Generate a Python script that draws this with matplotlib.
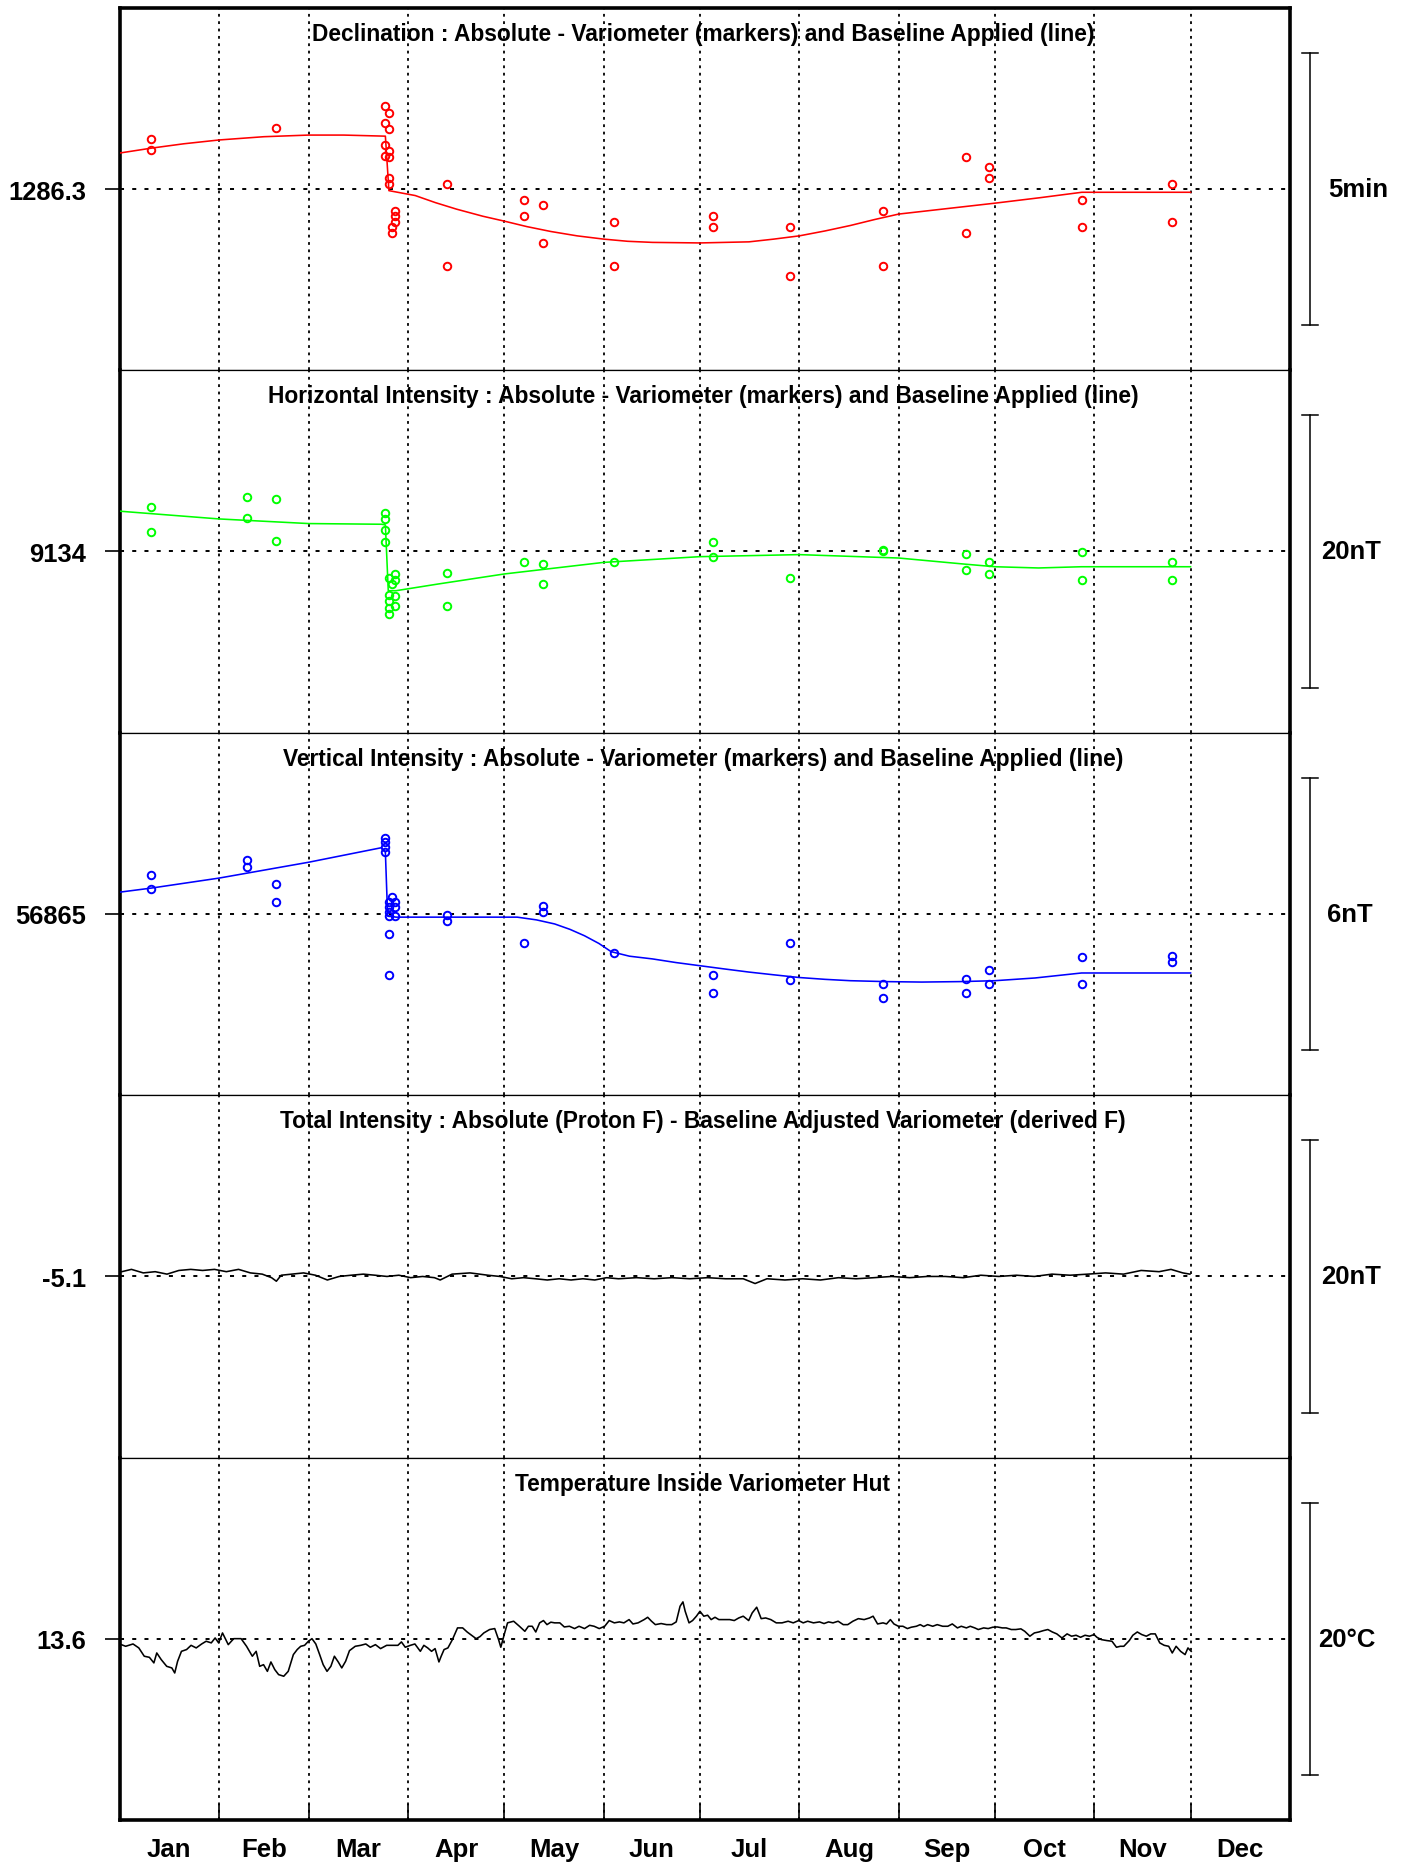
import numpy as np
import matplotlib
matplotlib.use('Agg')
import matplotlib.pyplot as plt
from matplotlib.transforms import blended_transform_factory

plt.rcParams['font.family'] = ['Liberation Sans', 'DejaVu Sans']
plt.rcParams['font.weight'] = 'bold'
plt.rcParams['lines.scale_dashes'] = False

# month boundaries (day of year) and labels
month_starts = [31, 59, 90, 120, 151, 181, 212, 243, 273, 304, 334]
month_mids = [15.5, 45, 74.5, 105, 135.5, 166, 196.5, 227.5, 258, 288.5, 319, 349.5]
month_names = ['Jan', 'Feb', 'Mar', 'Apr', 'May', 'Jun', 'Jul', 'Aug', 'Sep', 'Oct', 'Nov', 'Dec']

# Declination (minutes)
dec_obs_day = [9.9, 9.9, 48.9, 82.9, 84.0, 82.9, 84.0, 82.9, 84.0, 82.7, 84.0, 84.0, 84.0, 86.0, 86.0, 86.0,
               85.0, 85.0, 102.0, 102.0, 126.0, 126.0, 132.0, 132.0, 154.1, 154.1, 185.0, 185.0, 209.1, 209.1,
               238.2, 238.2, 264.1, 264.1, 271.1, 271.1, 300.1, 300.1, 328.2, 328.2]
dec_obs_val = [1287.21, 1287.01, 1287.42, 1287.82, 1287.70, 1287.52, 1287.40, 1287.11, 1287.00, 1286.91,
               1286.89, 1286.50, 1286.39, 1285.90, 1285.80, 1285.69, 1285.60, 1285.50, 1286.39, 1284.89,
               1286.09, 1285.80, 1286.00, 1285.30, 1285.70, 1284.89, 1285.80, 1285.60, 1285.60, 1284.70,
               1285.90, 1284.89, 1286.89, 1285.50, 1286.70, 1286.50, 1286.10, 1285.60, 1286.39, 1285.70]
dec_base_day = [0, 9.9, 20, 31, 45, 59, 69.9, 82.9, 83.3, 84.0, 92.2, 98.5, 105.1, 113.3, 120, 127, 134.5,
                142.7, 151, 158.5, 166.2, 181, 196.3, 204, 212, 220, 227.9, 235.5, 243, 258, 273, 287,
                300.1, 334]
dec_base_val = [1286.96, 1287.05, 1287.13, 1287.20, 1287.26, 1287.29, 1287.29, 1287.27, 1286.91, 1286.27,
                1286.18, 1286.05, 1285.93, 1285.80, 1285.71, 1285.61, 1285.52, 1285.44, 1285.38, 1285.34,
                1285.32, 1285.31, 1285.33, 1285.38, 1285.44, 1285.53, 1285.63, 1285.74, 1285.84, 1285.94,
                1286.04, 1286.14, 1286.24, 1286.24]

# Horizontal intensity (nT)
h_obs_day = [9.9, 9.9, 39.8, 39.8, 48.9, 48.9, 82.9, 82.9, 82.9, 82.9, 84, 86, 86, 85, 84, 86, 84, 86, 84, 84,
             102, 102, 126, 132, 132, 154.1, 185, 185, 209.1, 238.2, 238.2, 264.1, 264.1, 271.1, 271.1,
             300.1, 300.1, 328.2, 328.2]
h_obs_val = [9137.27, 9135.46, 9137.98, 9136.49, 9137.88, 9134.79, 9136.81, 9136.39, 9135.58, 9134.68,
             9132.03, 9132.35, 9131.93, 9131.61, 9130.80, 9130.75, 9130.38, 9130.01, 9129.82, 9129.40,
             9132.39, 9130.01, 9133.20, 9133.08, 9131.61, 9133.20, 9134.72, 9133.62, 9132.03, 9134.13,
             9134.04, 9133.82, 9132.64, 9133.23, 9132.32, 9133.94, 9131.93, 9133.20, 9131.93]
h_base_day = [0, 31, 59, 81.7, 82.9, 83.8, 86.2, 99.3, 120, 151, 181, 212, 243, 263.2, 273, 286.6, 300, 334]
h_base_val = [9136.96, 9136.39, 9136.05, 9136.00, 9135.95, 9131.12, 9131.12, 9131.61, 9132.35, 9133.20,
              9133.62, 9133.77, 9133.52, 9133.08, 9132.88, 9132.79, 9132.88, 9132.88]

# Vertical intensity (nT)
z_obs_day = [9.9, 9.9, 39.8, 39.8, 48.9, 48.9, 82.9, 82.9, 82.9, 82.9, 85, 84, 86, 84, 86, 84, 86, 84, 84, 84,
             102, 102, 126, 132, 132, 154.1, 185, 185, 209.1, 209.1, 238.2, 238.2, 264.1, 264.1, 271.1, 271.1,
             300.1, 300.1, 328.2, 328.2]
z_obs_val = [56865.86, 56865.55, 56866.18, 56866.04, 56865.66, 56865.26, 56866.68, 56866.58, 56866.47,
             56866.36, 56865.37, 56865.26, 56865.26, 56865.15, 56865.15, 56865.04, 56864.96, 56864.96,
             56864.56, 56863.65, 56864.98, 56864.85, 56864.36, 56865.17, 56865.05, 56864.15, 56863.65,
             56863.26, 56864.36, 56863.55, 56863.45, 56863.15, 56863.56, 56863.26, 56863.76, 56863.45,
             56864.06, 56863.45, 56864.07, 56863.95]
z_base_day = [0, 9.9, 31, 59, 81.7, 82.9, 83.6, 86.2, 120, 124, 130, 135.7, 140.5, 145, 149.5, 153.3, 159,
              166.2, 173.5, 181, 188.5, 196.3, 204, 212, 220, 227.9, 239, 250.2, 262, 273, 285.5, 300, 334]
z_base_val = [56865.48, 56865.57, 56865.79, 56866.14, 56866.46, 56866.36, 56864.96, 56864.93, 56864.93,
              56864.93, 56864.87, 56864.78, 56864.66, 56864.52, 56864.35, 56864.17, 56864.07, 56864.01,
              56863.93, 56863.86, 56863.79, 56863.72, 56863.66, 56863.60, 56863.56, 56863.53, 56863.51,
              56863.50, 56863.51, 56863.53, 56863.59, 56863.70, 56863.70]

# Total intensity difference (nT)
f_day = [0.7, 3.7, 7.4, 11.1, 14.8, 18.5, 22.2, 25.9, 29.6, 33.3, 37.1, 40.8, 44.5, 47.4, 48.9, 50.4, 53.7,
         57.4, 61.1, 64.8, 68.5, 72.2, 76.0, 79.7, 83.4, 87.1, 90.8, 94.5, 98.2, 100.0, 103.7, 109.3, 114.9,
         118.6, 122.3, 126.0, 129.7, 133.4, 137.1, 140.8, 144.5, 148.2, 151.9, 155.6, 161.2, 166.7, 172.3,
         177.8, 183.4, 189.0, 194.5, 198.2, 201.9, 207.5, 213.0, 218.6, 224.2, 229.7, 235.3, 240.8, 246.4,
         251.9, 257.5, 263.1, 268.6, 274.2, 279.7, 285.3, 290.8, 296.4, 302.0, 307.5, 313.1, 318.6, 324.2,
         327.9, 331.6, 333.8]
f_val = [-4.75, -4.58, -4.84, -4.75, -4.93, -4.66, -4.58, -4.66, -4.58, -4.75, -4.58, -4.84, -4.93, -5.19,
         -5.45, -5.01, -4.93, -4.84, -5.01, -5.36, -5.10, -5.01, -4.93, -5.01, -5.10, -5.01, -5.19, -5.10,
         -5.19, -5.36, -4.93, -4.84, -5.01, -5.10, -5.27, -5.19, -5.27, -5.36, -5.27, -5.36, -5.27, -5.36,
         -5.19, -5.27, -5.19, -5.27, -5.19, -5.27, -5.19, -5.27, -5.27, -5.62, -5.27, -5.36, -5.27, -5.36,
         -5.19, -5.27, -5.19, -5.10, -5.19, -5.10, -5.10, -5.19, -5.01, -5.10, -5.01, -5.10, -4.93, -5.01,
         -4.93, -4.84, -4.93, -4.66, -4.75, -4.58, -4.84, -4.93]

# Temperature inside variometer hut (deg C)
t_day = [0, 1.9, 4.2, 6.0, 7.7, 9.3, 10.7, 11.6, 13.0, 14.7, 16.3, 17.2, 18.1, 19.3, 20.9, 22.3, 23.9, 25.6,
         27.0, 28.6, 29.8, 30.9, 32.1, 33.9, 35.6, 37.9, 39.6, 41.4, 42.6, 43.7, 44.9, 46.1, 47.2, 48.4, 49.6,
         51.2, 52.6, 54.2, 55.4, 56.5, 57.7, 58.9, 60.0, 61.2, 62.4, 63.5, 64.7, 65.9, 67.0, 68.2, 69.3, 70.5,
         71.7, 73.5, 75.2, 76.8, 78.2, 79.8, 81.4, 83.3, 85.2, 86.8, 87.9, 89.1, 90.7, 92.1, 93.8, 94.9, 96.1,
         97.3, 98.4, 99.6, 100.3, 101.2, 102.4, 103.8, 105.4, 107.0, 108.4, 109.8, 111.2, 112.4, 113.6, 115.4,
         117.0, 118.2, 118.9, 120.1, 121.0, 122.9, 124.7, 126.4, 127.5, 128.7, 129.8, 131.0, 132.2, 133.3,
         134.5, 135.7, 137.3, 138.7, 140.3, 141.9, 143.3, 145.0, 146.6, 148.0, 149.6, 151.3, 152.7, 154.3,
         155.9, 157.3, 158.9, 160.1, 161.7, 163.6, 164.7, 165.9, 167.1, 168.9, 170.6, 172.2, 173.6, 174.8,
         175.7, 176.4, 177.6, 178.7, 179.9, 181.0, 182.2, 183.4, 184.5, 185.7, 186.9, 188.5, 190.3, 191.7,
         193.1, 194.5, 196.2, 197.3, 198.7, 200.1, 201.5, 203.1, 204.8, 206.6, 208.5, 210.1, 211.8, 213.2,
         214.6, 216.4, 218.3, 219.7, 221.1, 222.5, 224.1, 225.7, 227.1, 228.7, 230.4, 232.2, 233.9, 235.0,
         236.4, 238.1, 239.2, 240.4, 241.5, 242.9, 244.3, 245.7, 246.9, 248.5, 249.7, 250.8, 252.0, 253.6,
         255.0, 256.7, 258.3, 259.7, 261.3, 262.5, 264.1, 265.3, 266.7, 267.8, 269.5, 270.9, 272.3, 273.7,
         275.3, 276.5, 278.1, 279.5, 281.1, 282.3, 283.9, 285.3, 286.7, 288.1, 289.5, 290.9, 292.3, 293.9,
         295.5, 296.9, 298.3, 299.7, 301.1, 302.5, 303.9, 304.8, 306.2, 307.9, 309.5, 310.9, 312.1, 313.2,
         314.9, 316.0, 317.4, 318.8, 320.2, 321.6, 323.0, 324.4, 325.8, 327.2, 328.3, 329.5, 330.9, 332.3,
         333.2, 334.2]
t_val = [13.23, 13.06, 13.23, 12.94, 12.33, 12.25, 11.84, 12.57, 12.08, 11.59, 11.47, 11.10, 11.96, 12.69,
         12.82, 13.13, 12.94, 13.23, 13.43, 13.31, 13.67, 13.31, 14.04, 13.18, 13.62, 13.62, 13.06, 12.33,
         12.69, 11.59, 11.71, 11.22, 11.91, 11.35, 10.98, 10.86, 11.22, 12.45, 12.82, 13.06, 13.13, 13.43,
         13.62, 13.23, 12.45, 11.71, 11.22, 11.59, 12.33, 11.91, 11.47, 11.96, 12.74, 13.06, 13.13, 13.23,
         12.99, 13.18, 12.89, 13.13, 13.13, 13.13, 13.38, 12.99, 13.13, 13.23, 12.69, 13.13, 12.94, 12.69,
         12.89, 11.91, 12.33, 12.82, 12.94, 13.55, 14.41, 14.41, 14.11, 13.87, 13.62, 13.77, 14.04, 14.29,
         14.36, 13.55, 12.99, 14.04, 14.78, 14.90, 14.53, 14.16, 14.53, 14.53, 14.11, 14.78, 14.95, 14.65,
         14.83, 14.78, 14.78, 14.48, 14.53, 14.36, 14.53, 14.36, 14.60, 14.53, 14.36, 14.53, 14.95, 14.78,
         14.85, 14.78, 15.02, 14.70, 14.78, 15.02, 15.19, 14.90, 14.65, 14.73, 14.65, 14.65, 14.85, 16.00,
         16.32, 15.63, 14.78, 14.95, 15.27, 15.63, 15.27, 15.34, 15.02, 15.19, 15.02, 15.02, 15.02, 14.95,
         15.14, 15.27, 14.95, 15.51, 15.93, 15.09, 15.14, 15.02, 14.78, 14.78, 14.90, 14.78, 14.95, 14.78,
         14.90, 14.78, 14.85, 14.73, 14.85, 14.78, 14.90, 14.65, 14.65, 14.90, 15.09, 15.02, 15.14, 15.27,
         14.70, 14.78, 14.70, 15.02, 14.70, 14.53, 14.53, 14.36, 14.46, 14.53, 14.65, 14.51, 14.65, 14.53,
         14.65, 14.53, 14.53, 14.70, 14.41, 14.53, 14.41, 14.53, 14.41, 14.29, 14.41, 14.36, 14.46, 14.48,
         14.41, 14.41, 14.29, 14.29, 14.34, 14.16, 13.80, 14.04, 14.11, 14.21, 14.29, 14.11, 13.97, 13.67,
         13.97, 13.80, 13.87, 13.72, 13.87, 13.80, 13.92, 13.72, 13.55, 13.48, 13.43, 12.99, 13.06, 13.06,
         13.48, 13.87, 14.11, 13.92, 13.80, 13.97, 13.97, 13.31, 13.13, 13.06, 12.57, 13.06, 12.69, 12.45,
         12.94, 12.69]

panels = [
    dict(title='Declination : Absolute - Variometer (markers) and Baseline Applied (line)',
         center=1286.3, ticklabel='1286.3', scale=5, scalelabel='5min', labelx=1.0586, color='#ff0000',
         obs=(dec_obs_day, dec_obs_val), line=(dec_base_day, dec_base_val)),
    dict(title='Horizontal Intensity : Absolute - Variometer (markers) and Baseline Applied (line)',
         center=9134, ticklabel='9134', scale=20, scalelabel='20nT', labelx=1.0525, color='#00ff00',
         obs=(h_obs_day, h_obs_val), line=(h_base_day, h_base_val)),
    dict(title='Vertical Intensity : Absolute - Variometer (markers) and Baseline Applied (line)',
         center=56865, ticklabel='56865', scale=6, scalelabel='6nT', labelx=1.0515, color='#0000ff',
         obs=(z_obs_day, z_obs_val), line=(z_base_day, z_base_val)),
    dict(title='Total Intensity : Absolute (Proton F) - Baseline Adjusted Variometer (derived F)',
         center=-5.1, ticklabel='-5.1', scale=20, scalelabel='20nT', labelx=1.0525, color='black',
         obs=None, line=(f_day, f_val)),
    dict(title='Temperature Inside Variometer Hut',
         center=13.6, ticklabel='13.6', scale=20, scalelabel='20°C', labelx=1.049, color='black',
         obs=None, line=(t_day, t_val)),
]

fig, axes = plt.subplots(5, 1, figsize=(14.05, 18.65), dpi=100, sharex=True)
plt.subplots_adjust(left=0.0851, right=0.9181, top=0.9953, bottom=0.0235, hspace=0)

for i, (ax, p) in enumerate(zip(axes, panels)):
    half = p['scale'] * 0.6654
    ax.set_ylim(p['center'] - half, p['center'] + half)
    ax.set_xlim(0, 365)

    for m in month_starts:
        ax.axvline(m, color='black', lw=1.3, ls=(0, (2.0, 3.3)), zorder=1)
    ax.axhline(p['center'], color='black', lw=1.4, ls=(0, (2.9, 5.9)), zorder=1)

    ax.plot(p['line'][0], p['line'][1], color=p['color'], lw=1.15, zorder=3)
    if p['obs'] is not None:
        ax.plot(p['obs'][0], p['obs'][1], 'o', mfc='none', mec=p['color'], ms=5.4, mew=1.4,
                zorder=4, clip_on=False)

    ax.text(0.4985, 0.912, p['title'], transform=ax.transAxes, ha='center', va='baseline',
            fontsize=16.4, fontweight='bold')

    # scale bar on the right
    tr = blended_transform_factory(ax.transAxes, ax.transData)
    y0, y1 = p['center'] - p['scale'] / 2, p['center'] + p['scale'] / 2
    ax.plot([1.0175, 1.0175], [y0, y1], color='black', lw=1.1, transform=tr, clip_on=False)
    for yy in (y0, y1):
        ax.plot([1.0107, 1.0240], [yy, yy], color='black', lw=1.1, transform=tr, clip_on=False)
    ax.text(p['labelx'], p['center'], p['scalelabel'], transform=tr, ha='center', va='center',
            fontsize=18.5, fontweight='bold')

    ax.set_yticks([p['center']])
    ax.set_yticklabels([p['ticklabel']], fontsize=18.4, fontweight='bold')
    ax.tick_params(axis='y', direction='out', length=11, width=1.2, pad=13)

    for s in ('left', 'right'):
        ax.spines[s].set_linewidth(2.6)
    ax.spines['top'].set_linewidth(2.6 if i == 0 else 0.9)
    ax.spines['bottom'].set_linewidth(2.6 if i == 4 else 0.9)
    if i < 4:
        ax.tick_params(axis='x', which='both', bottom=False, labelbottom=False)

ax = axes[-1]
ax.set_xticks(month_starts)
ax.set_xticklabels([])
ax.set_xticks(month_mids, minor=True)
ax.set_xticklabels(month_names, minor=True, fontsize=18.5, fontweight='bold')
ax.tick_params(axis='x', which='major', direction='in', length=11.5, width=1.2)
ax.tick_params(axis='x', which='minor', length=0, pad=12)

fig.savefig('out.png', dpi=100)
